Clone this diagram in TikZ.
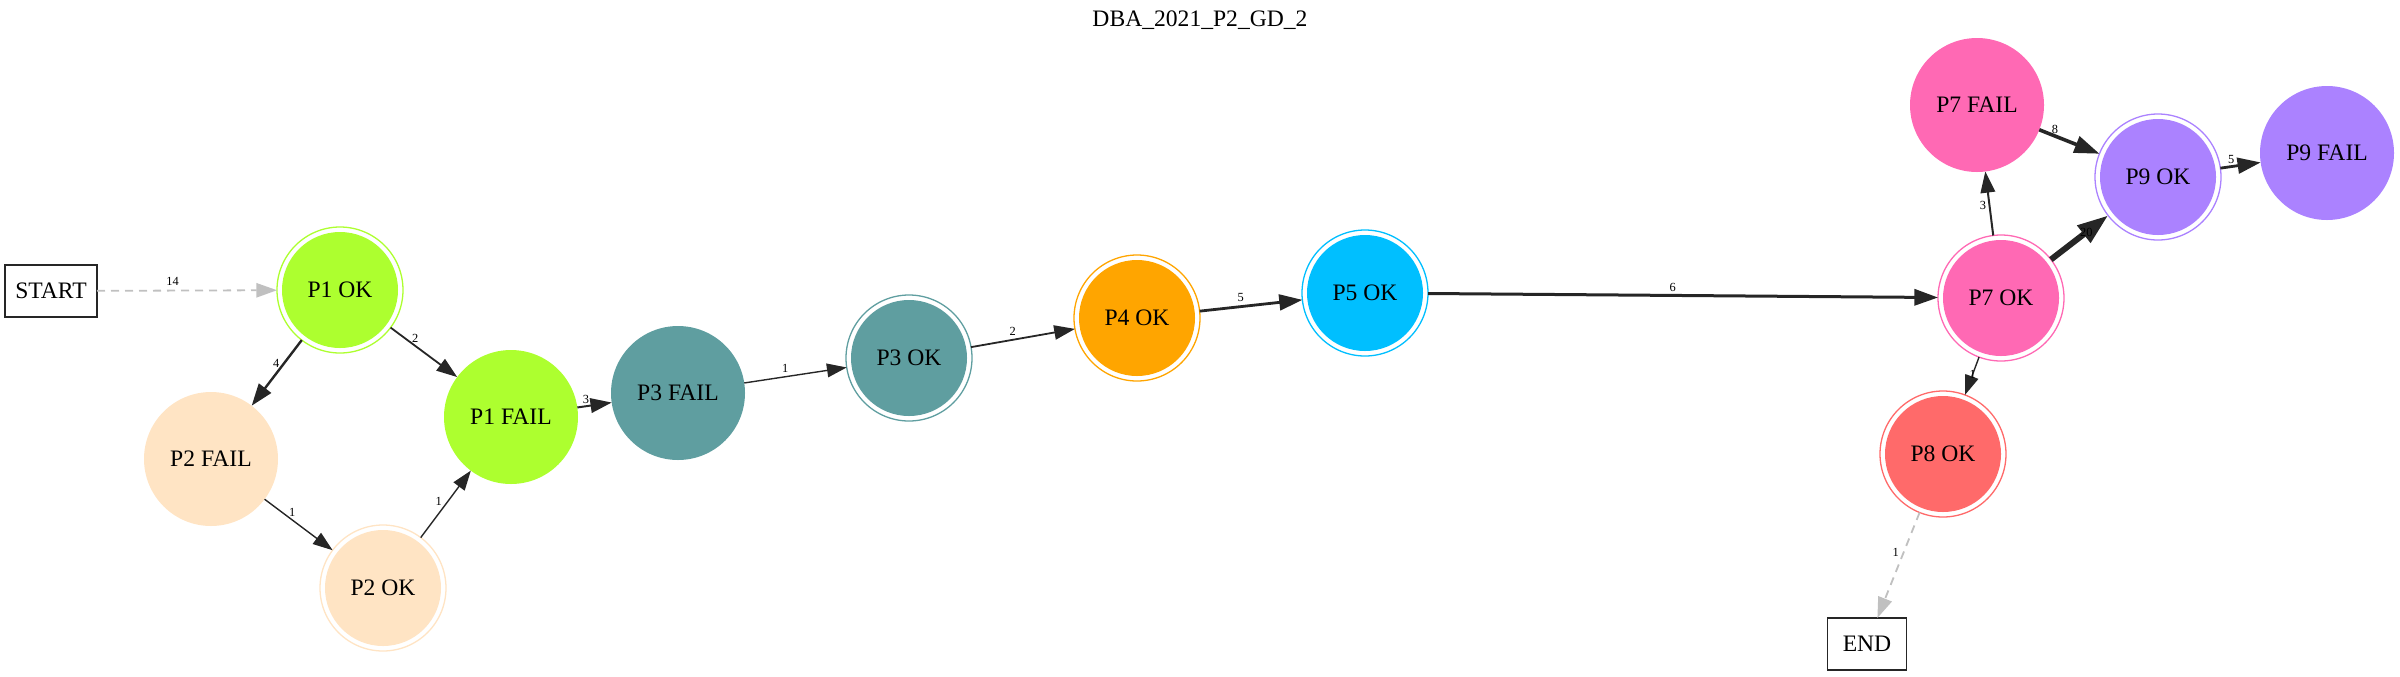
\documentclass[tikz,border=0pt]{standalone}
\usepackage{fontspec}
\setmainfont{Liberation Serif}
\usetikzlibrary{arrows.meta}
\definecolor{cPa}{HTML}{ADFF2F}
\definecolor{cPb}{HTML}{FFE4C4}
\definecolor{cPc}{HTML}{5F9EA0}
\definecolor{cPd}{HTML}{FFA500}
\definecolor{cPe}{HTML}{00BFFF}
\definecolor{cPg}{HTML}{FF69B4}
\definecolor{cPh}{HTML}{FF6A6A}
\definecolor{cPi}{HTML}{AB82FF}
\definecolor{edgec}{HTML}{262626}
\definecolor{dashc}{HTML}{C0C0C0}
\tikzset{
  nodefont/.style={font=\fontsize{11.8pt}{13pt}\selectfont},
  oknode/.style={nodefont, circle, minimum size=63pt, inner sep=0pt, outer sep=0pt,
    draw=#1, line width=0.65pt, fill=white,
    path picture={\fill[#1] (path picture bounding box.center) circle (29pt);}},
  failnode/.style={nodefont, circle, minimum size=67pt, inner sep=0pt, outer sep=0pt, fill=#1},
  boxnode/.style={nodefont, rectangle, draw=edgec, line width=0.7pt, minimum height=26pt, inner sep=0pt, outer sep=0pt},
  edg/.style={draw=edgec, -{Triangle[length=8.2pt 2.4, width=5.8pt 1.5]}},
  dedg/.style={draw=dashc, line width=0.9pt, dash pattern=on 4pt off 3pt, -{Triangle[length=8.2pt 2.4, width=5.8pt 1.5]}},
  lbl/.style={font=\fontsize{6.2pt}{7pt}\selectfont, inner sep=0.4pt, text=black}
}
\begin{document}
\begin{tikzpicture}[x=0.5pt,y=-0.5pt]
\useasboundingbox (0,0) rectangle (2400,676);
\node[nodefont] (title) at (1200,20) {DBA\_2021\_P2\_GD\_2};
% nodes
\node[boxnode, minimum width=46pt] (start) at (51,291) {START};
\node[oknode=cPa] (p1ok) at (340,290) {P1 OK};
\node[failnode=cPb] (p2fail) at (211,459) {P2 FAIL};
\node[failnode=cPa] (p1fail) at (511,417) {P1 FAIL};
\node[oknode=cPb] (p2ok) at (383,588) {P2 OK};
\node[failnode=cPc] (p3fail) at (678,393) {P3 FAIL};
\node[oknode=cPc] (p3ok) at (909,358) {P3 OK};
\node[oknode=cPd] (p4ok) at (1137,318) {P4 OK};
\node[oknode=cPe] (p5ok) at (1365,293) {P5 OK};
\node[oknode=cPg] (p7ok) at (2001,298) {P7 OK};
\node[failnode=cPg] (p7fail) at (1977,105) {P7 FAIL};
\node[oknode=cPi] (p9ok) at (2158,177) {P9 OK};
\node[failnode=cPi] (p9fail) at (2327,153) {P9 FAIL};
\node[oknode=cPh] (p8ok) at (1943,454) {P8 OK};
\node[boxnode, minimum width=39.5pt] (end) at (1867,644) {END};
% edges
\draw[dedg] (start) -- node[lbl, pos=.42, above=1.5pt] {14} (p1ok);
\draw[edg, line width=1.2pt] (p1ok) -- node[lbl, pos=.35, anchor=east, xshift=-1.5pt] {4} (p2fail);
\draw[edg, line width=0.9pt] (p1ok) -- node[lbl, pos=.31, anchor=south west, inner sep=0pt] {2} (p1fail);
\draw[edg, line width=0.7pt] (p2fail) -- node[lbl, pos=.35, anchor=south west, inner sep=0pt] {1} (p2ok);
\draw[edg, line width=0.7pt] (p2ok) -- node[lbl, pos=.45, anchor=south east] {1} (p1fail);
\draw[edg, line width=1.0pt] (p1fail) -- node[lbl, pos=.25, above=0.6pt] {3} (p3fail);
\draw[edg, line width=0.7pt] (p3fail) -- node[lbl, pos=.4, above=1.2pt] {1} (p3ok);
\draw[edg, line width=0.9pt] (p3ok) -- node[lbl, pos=.4, above=1.2pt] {2} (p4ok);
\draw[edg, line width=1.4pt] (p4ok) -- node[lbl, pos=.4, above=1.2pt] {5} (p5ok);
\draw[edg, line width=1.5pt] (p5ok) -- node[lbl, pos=.48, above=0.6pt] {6} (p7ok);
\draw[edg, line width=1.0pt] (p7ok) -- node[lbl, pos=.47, anchor=east, xshift=-0.8pt] {3} (p7fail);
\draw[edg, line width=1.8pt] (p7fail) -- node[lbl, pos=.26, above=0pt] {8} (p9ok);
\draw[edg, line width=3.0pt] (p7ok) -- node[lbl, pos=.62] {20} (p9ok);
\draw[edg, line width=1.4pt] (p9ok) -- node[lbl, pos=.27, above=0.6pt] {5} (p9fail);
\draw[edg, line width=0.7pt] (p7ok) -- node[lbl, pos=.45] {1} (p8ok);
\draw[dedg] (p8ok) -- node[lbl, pos=.38, left=1.5pt] {1} (end);
\end{tikzpicture}
\end{document}
